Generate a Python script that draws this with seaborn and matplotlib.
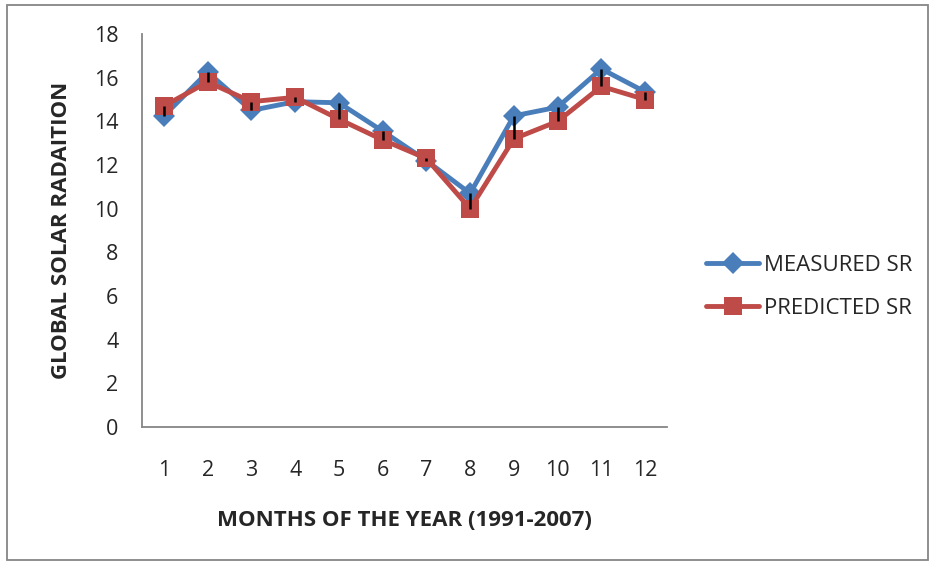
import pandas as pd
import matplotlib.pyplot as plt
import seaborn as sns
from matplotlib.patches import Rectangle

# values
months = [1, 2, 3, 4, 5, 6, 7, 8, 9, 10, 11, 12]
measured = [14.25, 16.25, 14.5, 14.9, 14.85, 13.55, 12.2, 10.7, 14.25, 14.65, 16.4, 15.35]
predicted = [14.7, 15.8, 14.9, 15.1, 14.1, 13.15, 12.3, 10.0, 13.2, 14.0, 15.6, 15.0]

df = pd.DataFrame({'month': months, 'MEASURED SR': measured, 'PREDICTED SR': predicted})

sns.set_style('white')
plt.rcParams['font.family'] = ['Open Sans', 'DejaVu Sans']

fig = plt.figure(figsize=(9.32, 5.66), dpi=100)
ax = fig.add_axes([142 / 932, 1 - 427 / 566, (667 - 142) / 932, (427 - 34) / 566])

blue = '#4A7EBB'
red = '#BE4B48'

sns.lineplot(x='month', y='MEASURED SR', data=df, ax=ax, color=blue, linewidth=3.5,
             marker='D', markersize=11, markeredgewidth=0, label='MEASURED SR')
sns.lineplot(x='month', y='PREDICTED SR', data=df, ax=ax, color=red, linewidth=3.5,
             marker='s', markersize=13, markeredgewidth=0, label='PREDICTED SR')

# black bars joining measured and predicted values
lo = [min(a, b) for a, b in zip(measured, predicted)]
hi = [max(a, b) for a, b in zip(measured, predicted)]
ax.vlines(months, lo, hi, color='black', linewidth=1.8, zorder=5)

ax.set_xlim(0.5, 12.5)
ax.set_ylim(0, 18)
ax.set_yticks(range(0, 19, 2))
ax.set_xticks(months)
ax.tick_params(axis='y', length=5, color='#868686', width=1, labelsize=15.5, pad=12)
ax.tick_params(axis='x', length=0, labelsize=15.5, pad=24)
for s in ['top', 'right']:
    ax.spines[s].set_visible(False)
for s in ['left', 'bottom']:
    ax.spines[s].set_color('#868686')
    ax.spines[s].set_linewidth(1.3)

ax.set_xlabel('MONTHS OF THE YEAR (1991-2007)', fontsize=16, fontweight='bold', labelpad=21)
ax.set_ylabel('GLOBAL SOLAR RADAITION', fontsize=16, fontweight='bold', labelpad=16)

ax.legend(loc='center left', bbox_to_anchor=(686 / 932, 1 - 287 / 566), bbox_transform=fig.transFigure,
          frameon=False, fontsize=16, handlelength=2.4, handletextpad=0.2, labelspacing=1.0)

# outer chart border
fig.patches.append(Rectangle((7 / 932, 6 / 566), 921 / 932, 555 / 566, transform=fig.transFigure,
                             fill=False, edgecolor='#868686', linewidth=1.3))

fig.savefig('out.png', dpi=100)
